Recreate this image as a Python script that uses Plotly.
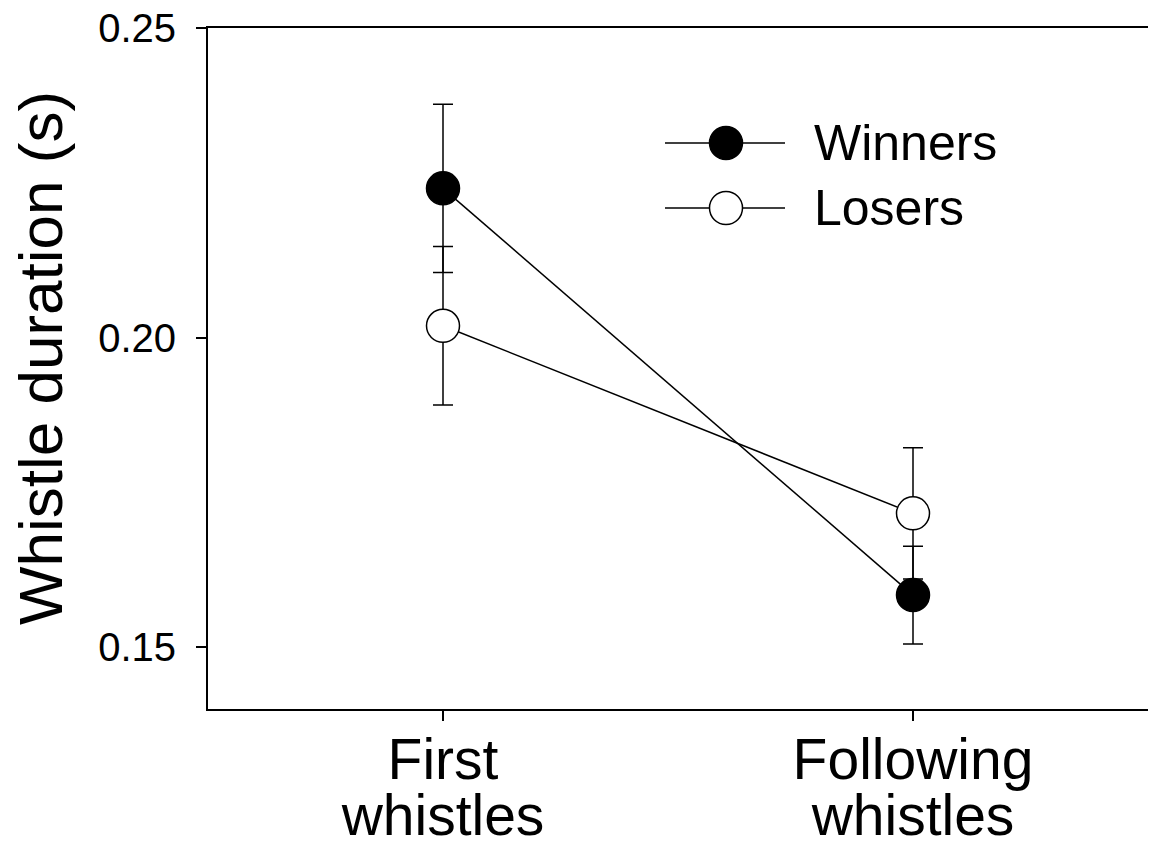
import plotly.graph_objects as go

# ---- data ----
categories = ["First whistles", "Following whistles"]
x_pos = [0, 1]
winners_mean = [0.2241, 0.1584]
winners_se = [0.0136, 0.0079]
losers_mean = [0.2019, 0.1716]
losers_se = [0.0128, 0.0106]
y_ticks = [0.15, 0.20, 0.25]
series_names = ["Winners", "Losers"]
y_title = "Whistle duration (s)"

line_one = [c.split(" ")[0] for c in categories]
line_two = [c.split(" ")[1] for c in categories]

FONT = "Liberation Sans, Arial, sans-serif"
OFF = 8  # page body margin added by the browser
W, H = 1156 - OFF, 854 - OFF
# plot box in page pixels: x 208..1148, y 28..709
ML, MT = 208 - OFF, 28 - OFF
MR = W - (1148 - OFF)
MB = H - (709 - OFF)
PW, PH = W - ML - MR, H - MT - MB


def px_x(p):  # page pixel -> paper
    return (p - OFF - ML) / PW


def px_y(p):
    return (H - MB - (p - OFF)) / PH


fig = go.Figure()

fig.add_trace(go.Scatter(
    x=x_pos, y=losers_mean, name=series_names[1], mode="lines+markers",
    line=dict(color="black", width=1.5),
    marker=dict(size=33, color="white", line=dict(color="black", width=1.5)),
    error_y=dict(type="data", array=losers_se, visible=True, color="black",
                 thickness=1.5, width=10),
))
fig.add_trace(go.Scatter(
    x=x_pos, y=winners_mean, name=series_names[0], mode="lines+markers",
    line=dict(color="black", width=1.5),
    marker=dict(size=33, color="black", line=dict(color="black", width=1.5)),
    error_y=dict(type="data", array=winners_se, visible=True, color="black",
                 thickness=1.5, width=10),
))
# empty traces so the two category-label axes are rendered
for ax in ("x2", "x3"):
    fig.add_trace(go.Scatter(
        x=x_pos, y=[None, None], xaxis=ax, yaxis="y", mode="markers",
        showlegend=False, hoverinfo="skip",
    ))

# ---- manual legend (line sample with marker in the middle) ----
shapes = []
annotations = []
legend_rows = [(series_names[0], "black", 143), (series_names[1], "white", 208)]
for name, fill, py in legend_rows:
    yy = px_y(py)
    shapes.append(dict(type="line", xref="paper", yref="paper",
                       x0=px_x(665), x1=px_x(785), y0=yy, y1=yy,
                       line=dict(color="black", width=1.5)))
    shapes.append(dict(type="circle", xref="paper", yref="paper",
                       xsizemode="pixel", ysizemode="pixel",
                       xanchor=px_x(726), yanchor=yy,
                       x0=-16.5, x1=16.5, y0=-16.5, y1=16.5,
                       fillcolor=fill, line=dict(color="black", width=1.5)))
    annotations.append(dict(text=name, xref="paper", yref="paper",
                            x=px_x(812), y=yy, xanchor="left", yanchor="middle",
                            showarrow=False,
                            font=dict(family=FONT, size=50, color="black")))

# y-axis title
annotations.append(dict(text=y_title, xref="paper", yref="paper",
                        x=px_x(40), y=px_y(358), xanchor="center", yanchor="middle",
                        textangle=-90, showarrow=False,
                        font=dict(family=FONT, size=62, color="black")))

cat_font = dict(family=FONT, size=57, color="black")

fig.update_layout(
    width=W, height=H,
    margin=dict(l=ML, r=MR, t=MT, b=MB, autoexpand=False),
    paper_bgcolor="white", plot_bgcolor="white",
    showlegend=False,
    font=dict(family=FONT, color="black"),
    shapes=shapes, annotations=annotations,
    xaxis=dict(
        range=[-0.5, 1.5], tickmode="array", tickvals=x_pos,
        showticklabels=False,
        showline=True, mirror=True, linecolor="black", linewidth=2,
        ticks="outside", ticklen=10, tickwidth=1.5, tickcolor="black",
        showgrid=False, zeroline=False, automargin=False,
    ),
    xaxis2=dict(
        overlaying="x", anchor="y", side="bottom",
        range=[-0.5, 1.5], tickmode="array", tickvals=x_pos, ticktext=line_one,
        showline=False, showgrid=False, zeroline=False, automargin=False,
        ticks="", ticklabelstandoff=12, tickfont=cat_font,
        ticklabeloverflow="allow",
    ),
    xaxis3=dict(
        overlaying="x", anchor="y", side="bottom",
        range=[-0.5, 1.5], tickmode="array", tickvals=x_pos, ticktext=line_two,
        showline=False, showgrid=False, zeroline=False, automargin=False,
        ticks="", ticklabelstandoff=68, tickfont=cat_font,
        ticklabeloverflow="allow",
    ),
    yaxis=dict(
        range=[0.14, 0.25], tickmode="array", tickvals=y_ticks, tickformat=".2f",
        showline=True, mirror=True, linecolor="black", linewidth=2,
        ticks="outside", ticklen=10, tickwidth=1.5, tickcolor="black",
        showgrid=False, zeroline=False, ticklabelstandoff=12, automargin=False,
        ticklabeloverflow="allow",
        tickfont=dict(family=FONT, size=40, color="black"),
    ),
)

fig.write_html("out.html")
